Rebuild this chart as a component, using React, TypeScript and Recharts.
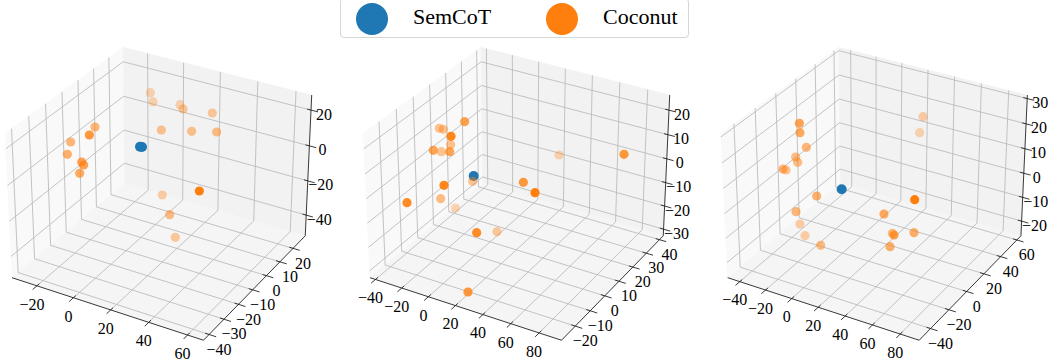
import React from 'react';
import { ScatterChart, Scatter, XAxis, YAxis } from 'recharts';

const BLUE = '#1f77b4';
const ORANGE = '#ff7f0e';
const SERIF = '"Liberation Serif", serif';

// tick labels of each 3D axis
const xTicks1 = [-20, 0, 20, 40, 60];
const yTicks1 = [-40, -30, -20, -10, 0, 10, 20];
const zTicks1 = [-40, -20, 0, 20];
const xTicks2 = [-40, -20, 0, 20, 40, 60, 80];
const yTicks2 = [-20, -10, 0, 10, 20, 30, 40];
const zTicks2 = [-30, -20, -10, 0, 10, 20];
const xTicks3 = [-40, -20, 0, 20, 40, 60, 80];
const yTicks3 = [-40, -20, 0, 20, 40, 60];
const zTicks3 = [-20, -10, 0, 10, 20, 30];

// axis limits
const limits1 = [-33.9, 68.1, -43.7, 29.5, -52.3, 28.3];
const limits2 = [-44.2, 95.6, -29, 42.9, -32.9, 26.1];
const limits3 = [-49.5, 93.5, -52.1, 65.1, -26.25, 31.4];

// points as read in the view plane
const semcotX1 = [-64, -58];
const semcotY1 = [120, 119];
const coconutX1 = [-33, -25, 56, 65, 153, 0, 91, 166, -199, -216, -272, -282, -239, -233, -245, 114, 3, 25, 42];
const coconutY1 = [282, 255, 246, 233, 221, 170, 166, 164, 179, 155, 134, 97, 74, 65, 40, -13, -25, -84, -152];
const coconutA1 = [0.3, 0.3, 0.3, 0.4, 0.4, 0.45, 0.45, 0.5, 0.55, 0.8, 0.55, 0.6, 0.7, 0.7, 0.65, 1, 0.35, 0.5, 0.4];

const semcotX2 = [-137];
const semcotY2 = [32];
const coconutX2 = [-164, -240, -228, -205, -206, -258, -234, -209, -140, -226, -337, -236, -192, -128, -67, -154, 12, 47, 119, 314];
const coconutY2 = [195, 175, 172, 151, 126, 109, 105, 105, 16, 4, -48, -36, -64, -138, -135, -316, 13, -18, 95, 97];
const coconutA2 = [0.7, 0.45, 0.45, 0.95, 0.45, 0.7, 0.45, 0.7, 0.45, 0.95, 0.9, 0.5, 0.3, 0.9, 0.4, 0.8, 0.8, 1, 0.3, 0.8];

const semcotX3 = [-106];
const semcotY3 = [-8];
const coconutX3 = [-233, -231, -212, -244, -238, -282, -273, -181, -243, -231, -216, -169, 138, 128, 113, 21, 46, 51, 111, 39];
const coconutY3 = [190, 162, 118, 89, 73, 53, 50, -28, -75, -112, -147, -176, 210, 162, -39, -82, -140, -145, -138, -180];
const coconutA3 = [0.7, 0.65, 0.55, 0.5, 0.5, 0.55, 0.45, 0.6, 0.55, 0.35, 0.35, 0.5, 0.35, 0.3, 1, 0.65, 0.5, 0.7, 0.6, 0.6];

const legendItems = ['SemCoT', 'Coconut'];

// same camera as a default mplot3d axes: elev 30, azim -60, box 4:4:3
const BOX = [1.1905, 1.1905, 0.8929];
const DIST = 10;
const VIEW_SCALE = 5529;

const project = (px: number, py: number, pz: number, lim: number[]) => {
  const a = ((px - lim[0]) / (lim[1] - lim[0]) - 0.5) * BOX[0];
  const b = ((py - lim[2]) / (lim[3] - lim[2]) - 0.5) * BOX[1];
  const c = ((pz - lim[4]) / (lim[5] - lim[4]) - 0.5) * BOX[2];
  const u = 0.866 * a + 0.5 * b;
  const v = -0.25 * a + 0.433 * b + 0.866 * c;
  const w = 0.433 * a - 0.75 * b + 0.5 * c;
  const depth = DIST - w;
  return { x: (VIEW_SCALE * u) / depth, y: (VIEW_SCALE * v) / depth };
};

const noDot = () => <g />;

const polygon = (fill: string) => (props: any) => (
  <polygon points={props.points.map((p: any) => `${p.x},${p.y}`).join(' ')} fill={fill} stroke={fill} strokeWidth={0.5} />
);

// every two points make one segment
const segments = (stroke: string, width: number) => (props: any) => {
  let d = '';
  props.points.forEach((p: any, i: number) => {
    d += `${i % 2 === 0 ? 'M' : 'L'}${p.x} ${p.y} `;
  });
  return <path d={d} fill="none" stroke={stroke} strokeWidth={width} />;
};

const TickLabel = (props: any) => (
  <text
    x={props.cx}
    y={props.cy}
    textAnchor="middle"
    dominantBaseline="central"
    fontFamily={SERIF}
    fontSize={16}
    fill="#000"
  >
    {props.payload.label}
  </text>
);

const Dot = (props: any) => (
  <circle cx={props.cx} cy={props.cy} r={4.6} fill={props.fill} fillOpacity={props.payload.alpha} />
);

const BlueDot = (props: any) => (
  <circle cx={props.cx} cy={props.cy} r={5} fill={props.fill} />
);

const fmt = (v: number) => String(v).replace('-', '\u2212');

interface PanelProps {
  left: number;
  center: number;
  lim: number[];
  xTicks: number[];
  yTicks: number[];
  zTicks: number[];
  semcotX: number[];
  semcotY: number[];
  coconutX: number[];
  coconutY: number[];
  coconutA: number[];
}

const Panel: React.FC<PanelProps> = ({ left, center, lim, xTicks, yTicks, zTicks, semcotX, semcotY, coconutX, coconutY, coconutA }) => {
  const [x0, x1, y0, y1, z0, z1] = lim;
  const P = (a: number, b: number, c: number) => project(a, b, c, lim);

  const leftWall = [P(x0, y0, z0), P(x0, y1, z0), P(x0, y1, z1), P(x0, y0, z1)];
  const backWall = [P(x0, y1, z0), P(x1, y1, z0), P(x1, y1, z1), P(x0, y1, z1)];
  const floor = [P(x0, y0, z0), P(x1, y0, z0), P(x1, y1, z0), P(x0, y1, z0)];

  const grid: any[] = [];
  xTicks.forEach((t) => grid.push(P(t, y0, z0), P(t, y1, z0), P(t, y1, z0), P(t, y1, z1)));
  yTicks.forEach((t) => grid.push(P(x1, t, z0), P(x0, t, z0), P(x0, t, z0), P(x0, t, z1)));
  zTicks.forEach((t) => grid.push(P(x1, y1, t), P(x0, y1, t), P(x0, y1, t), P(x0, y0, t)));

  const dx = x1 - x0;
  const dy = y1 - y0;
  const axes = [P(x0, y0, z0), P(x1, y0, z0), P(x1, y0, z0), P(x1, y1, z0), P(x1, y1, z0), P(x1, y1, z1)];
  const marks: any[] = [];
  xTicks.forEach((t) => marks.push(P(t, y0 + dy * 0.02, z0), P(t, y0 - dy * 0.035, z0)));
  yTicks.forEach((t) => marks.push(P(x1 - dx * 0.02, t, z0), P(x1 + dx * 0.035, t, z0)));
  zTicks.forEach((t) => marks.push(P(x1 - dx * 0.02, y1, t), P(x1 + dx * 0.035, y1, t)));

  const labels: any[] = [];
  xTicks.forEach((t) => {
    const p = P(t, y0, z0);
    labels.push({ x: p.x - 15, y: p.y - 55, label: fmt(t) });
  });
  yTicks.forEach((t) => {
    const p = P(x1, t, z0);
    labels.push({ x: p.x + 30, y: p.y - 44, label: fmt(t) });
  });
  zTicks.forEach((t) => {
    const p = P(x1, y1, t);
    labels.push({ x: p.x + 39, y: p.y - 12, label: fmt(t) });
  });

  const semcot = semcotX.map((x, i) => ({ x, y: semcotY[i], alpha: 1 }));
  const coconut = coconutX.map((x, i) => ({ x, y: coconutY[i], alpha: coconutA[i] }));

  return (
    <div style={{ position: 'absolute', left, top: 30 }}>
      <ScatterChart width={350} height={334} margin={{ top: 0, right: 0, bottom: 0, left: 0 }}>
        <XAxis type="number" dataKey="x" domain={[-center, 1050 - center]} hide />
        <YAxis type="number" dataKey="y" domain={[-532, 470]} hide />
        <Scatter data={leftWall} line={polygon('#f9f9f9')} shape={noDot} isAnimationActive={false} />
        <Scatter data={backWall} line={polygon('#f2f2f2')} shape={noDot} isAnimationActive={false} />
        <Scatter data={floor} line={polygon('#f5f5f5')} shape={noDot} isAnimationActive={false} />
        <Scatter data={grid} line={segments('#bcbcbc', 0.9)} shape={noDot} isAnimationActive={false} />
        <Scatter data={axes} line={segments('#222', 0.9)} shape={noDot} isAnimationActive={false} />
        <Scatter data={marks} line={segments('#222', 0.9)} shape={noDot} isAnimationActive={false} />
        <Scatter data={labels} shape={TickLabel} isAnimationActive={false} />
        <Scatter data={semcot} fill={BLUE} shape={BlueDot} isAnimationActive={false} />
        <Scatter data={coconut} fill={ORANGE} shape={Dot} isAnimationActive={false} />
      </ScatterChart>
    </div>
  );
};

const Legend = () => (
  <div
    style={{
      position: 'absolute',
      left: 340,
      top: -2,
      width: 347,
      height: 38,
      border: '1px solid #d6d6d6',
      borderRadius: 4,
      background: '#fff',
      fontFamily: SERIF,
      fontSize: 22,
      color: '#000',
    }}
  >
    {legendItems.map((name, i) => (
      <React.Fragment key={name}>
        <span
          style={{
            position: 'absolute',
            left: i === 0 ? 15 : 205,
            top: 4,
            width: 32,
            height: 32,
            borderRadius: '50%',
            background: i === 0 ? BLUE : ORANGE,
          }}
        />
        <span style={{ position: 'absolute', left: i === 0 ? 72 : 262, top: 5, lineHeight: '26px' }}>{name}</span>
      </React.Fragment>
    ))}
  </div>
);

export default function App() {
  return (
    <div style={{ position: 'absolute', left: 0, top: 0, width: 1048, height: 364, overflow: 'hidden', background: '#fff' }}>
      <Panel left={0} center={484} lim={limits1} xTicks={xTicks1} yTicks={yTicks1} zTicks={zTicks1}
        semcotX={semcotX1} semcotY={semcotY1} coconutX={coconutX1} coconutY={coconutY1} coconutA={coconutA1} />
      <Panel left={350} center={508} lim={limits2} xTicks={xTicks2} yTicks={yTicks2} zTicks={zTicks2}
        semcotX={semcotX2} semcotY={semcotY2} coconutX={coconutX2} coconutY={coconutY2} coconutA={coconutA2} />
      <Panel left={698} center={537} lim={limits3} xTicks={xTicks3} yTicks={yTicks3} zTicks={zTicks3}
        semcotX={semcotX3} semcotY={semcotY3} coconutX={coconutX3} coconutY={coconutY3} coconutA={coconutA3} />
      <Legend />
    </div>
  );
}
